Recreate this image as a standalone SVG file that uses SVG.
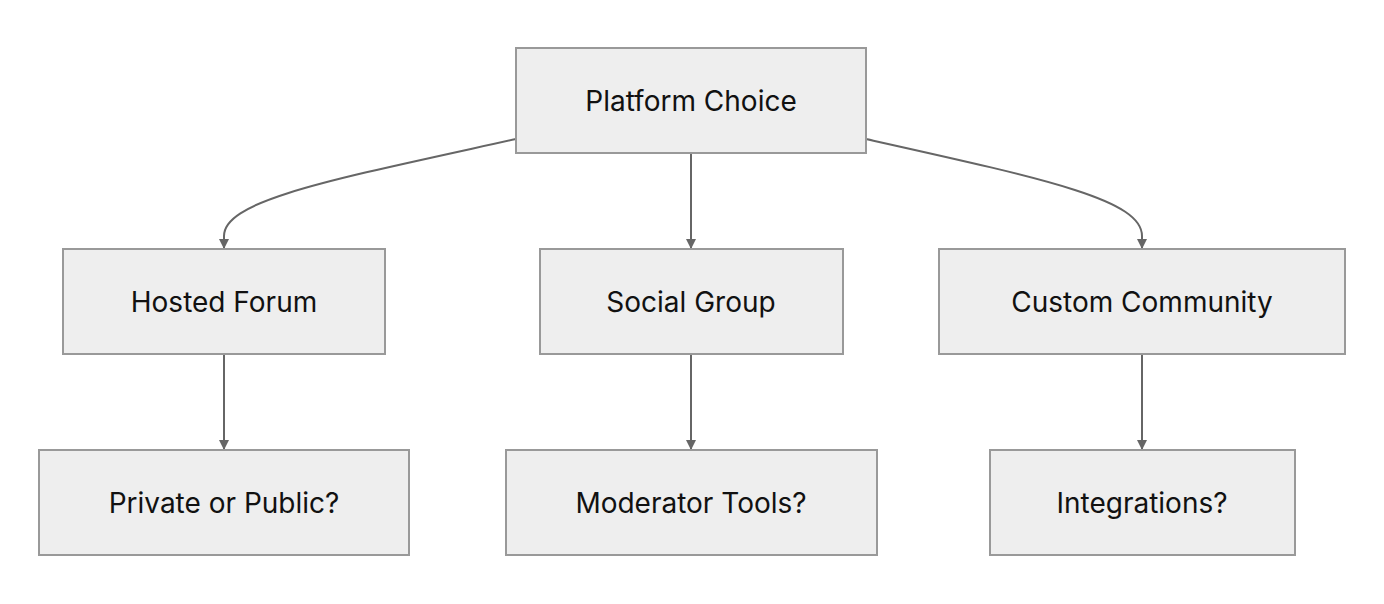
<svg xmlns="http://www.w3.org/2000/svg" width="1384" height="604" viewBox="0 0 1384 604">
<style>
.n rect{fill:#eeeeee;stroke:#999999;stroke-width:2}
.n text{font-family:Inter,"Liberation Sans",sans-serif;font-size:28px;fill:#111;text-anchor:middle;dominant-baseline:central}
.e path{fill:none;stroke:#666;stroke-width:2}
</style>
<defs><marker id="a" markerWidth="10" markerHeight="10" refX="9" refY="5" orient="auto" markerUnits="userSpaceOnUse" viewBox="0 0 10 10"><path d="M0,0 L10,5 L0,10 z" fill="#666"/></marker></defs>
<rect width="1384" height="604" fill="#fff"/>
<g class="e">
<path d="M516,139 C330,180 224,200 224,236 L224,248" marker-end="url(#a)"/>
<path d="M691,153 L691,248" marker-end="url(#a)"/>
<path d="M866,139 C1050,180 1142,200 1142,236 L1142,248" marker-end="url(#a)"/>
<path d="M224,354 L224,449" marker-end="url(#a)"/>
<path d="M691,354 L691,449" marker-end="url(#a)"/>
<path d="M1142,354 L1142,449" marker-end="url(#a)"/>
</g>
<g id="platform" class="n"><rect x="516" y="48" width="350" height="105"/><text x="691" y="101">Platform Choice</text></g>
<g id="hosted" class="n"><rect x="63" y="249" width="322" height="105"/><text x="224" y="302">Hosted Forum</text></g>
<g id="social" class="n"><rect x="540" y="249" width="303" height="105"/><text x="691" y="302">Social Group</text></g>
<g id="custom" class="n"><rect x="939" y="249" width="406" height="105"/><text x="1142" y="302">Custom Community</text></g>
<g id="private" class="n"><rect x="39" y="450" width="370" height="105"/><text x="224" y="503">Private or Public?</text></g>
<g id="moderator" class="n"><rect x="506" y="450" width="371" height="105"/><text x="691" y="503">Moderator Tools?</text></g>
<g id="integrations" class="n"><rect x="990" y="450" width="305" height="105"/><text x="1142" y="503">Integrations?</text></g>
</svg>
